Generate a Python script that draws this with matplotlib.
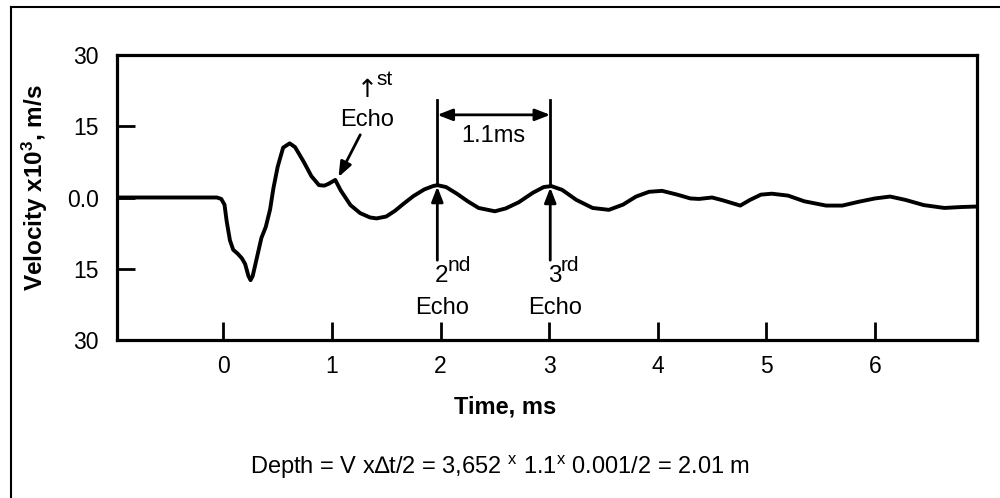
import matplotlib
matplotlib.use("Agg")
import matplotlib.pyplot as plt
from matplotlib.lines import Line2D

plt.rcParams['font.family'] = ['Liberation Sans', 'DejaVu Sans']
plt.rcParams['mathtext.fontset'] = 'custom'
plt.rcParams['mathtext.rm'] = 'Liberation Sans'
plt.rcParams['mathtext.it'] = 'Liberation Sans'
plt.rcParams['mathtext.bf'] = 'Liberation Sans:bold'

# ---- data ----
time_ms = [-0.98, -0.3, -0.06, -0.02, 0.01, 0.03, 0.06, 0.09, 0.13, 0.17, 0.20,
           0.23, 0.25, 0.27, 0.31, 0.35, 0.39, 0.43, 0.46, 0.50, 0.55, 0.61,
           0.66, 0.74, 0.81, 0.88, 0.93, 0.97, 1.03, 1.08, 1.17, 1.26, 1.35,
           1.41, 1.50, 1.58, 1.66, 1.75, 1.85, 1.93, 1.97, 2.05, 2.15, 2.25,
           2.35, 2.50, 2.60, 2.72, 2.85, 2.95, 3.02, 3.12, 3.25, 3.40, 3.55,
           3.68, 3.80, 3.92, 4.04, 4.18, 4.30, 4.38, 4.50, 4.60, 4.76, 4.85,
           4.95, 5.05, 5.20, 5.35, 5.55, 5.70, 5.85, 6.00, 6.14, 6.28, 6.45,
           6.64, 6.80, 6.94]
velocity = [0.0, 0.0, 0.0, -0.3, -1.5, -5.0, -9.0, -11.0, -11.8, -12.8, -14.0,
            -16.5, -17.4, -16.5, -12.5, -8.5, -6.2, -2.5, 1.9, 6.5, 10.5, 11.4,
            10.6, 7.5, 4.5, 2.6, 2.5, 2.9, 3.7, 1.5, -1.6, -3.3, -4.2,
            -4.4, -4.0, -2.8, -1.3, 0.3, 1.7, 2.4, 2.6, 2.2, 0.8, -0.8,
            -2.2, -2.9, -2.3, -1.0, 1.0, 2.2, 2.4, 1.6, -0.5, -2.2, -2.6,
            -1.5, 0.2, 1.2, 1.4, 0.6, -0.2, -0.3, 0.0, -0.6, -1.7, -0.5,
            0.6, 0.8, 0.4, -0.8, -1.7, -1.7, -0.9, -0.2, 0.2, -0.5, -1.6,
            -2.2, -2.0, -1.9]

x_ticks = [0, 1, 2, 3, 4, 5, 6]
y_ticks = [30, 15, 0, -15, -30]
y_tick_labels = ["30", "15", "0.0", "15", "30"]
echo_times = [1.97, 3.01]
echo_peaks = [2.6, 2.4]
echo_numbers = ["2", "3"]
echo_suffixes = ["nd", "rd"]

fig = plt.figure(figsize=(10, 4.98), dpi=100)
ax = fig.add_axes([0.117, 1 - 340 / 498, 0.86, 285 / 498])

ax.plot(time_ms, velocity, color='black', lw=2.8, solid_joinstyle='round')

ax.set_xlim(-0.98, 6.94)
ax.set_ylim(-30, 30)
ax.set_xticks(x_ticks)
ax.set_xticklabels([str(v) for v in x_ticks])
ax.set_yticks(y_ticks)
ax.set_yticklabels(y_tick_labels)
ax.tick_params(axis='both', direction='in', length=13, width=2.0,
               labelsize=16.5, colors='black')
ax.tick_params(axis='x', pad=11)
ax.tick_params(axis='y', pad=13)
for s in ax.spines.values():
    s.set_linewidth(2.3)

# echo markers
for t, pk, num, suf in zip(echo_times, echo_peaks, echo_numbers, echo_suffixes):
    ax.plot([t, t], [20.5, pk], color='black', lw=2.0)
    ax.annotate('', xy=(t, pk - 0.3), xytext=(t, -13.2),
                arrowprops=dict(arrowstyle='-|>,head_length=0.9,head_width=0.35',
                                color='black', lw=2.0, shrinkA=0, shrinkB=0))
    ax.text(t + 0.04, -16.5, num, ha='center', va='center', fontsize=17.5)
    ax.text(t + 0.095, -14.4, suf, ha='left', va='center', fontsize=15)
    ax.text(t + 0.04, -23.2, "Echo", ha='center', va='center', fontsize=17)

ax.annotate('', xy=(echo_times[0], 17.4), xytext=(echo_times[1], 17.4),
            arrowprops=dict(arrowstyle='<|-|>,head_length=0.9,head_width=0.35',
                            color='black', lw=2.0, shrinkA=0, shrinkB=0))
ax.text((echo_times[0] + echo_times[1]) / 2, 13.0, "1.1ms", ha='center',
        va='center', fontsize=17)

# first echo
ax.text(1.32, 16.3, "Echo", ha='center', va='center', fontsize=17)
ax.text(1.325, 22.6, "\u2191", ha='center', va='center', fontsize=18,
        family='DejaVu Sans')
ax.text(1.405, 24.8, "st", ha='left', va='center', fontsize=15)
ax.annotate('', xy=(1.06, 4.3), xytext=(1.26, 13.2),
            arrowprops=dict(arrowstyle='-|>,head_length=0.9,head_width=0.35',
                            color='black', lw=2.0, shrinkA=0, shrinkB=0))

# labels
fig.text(0.035, 1 - 188 / 498, "Velocity x10$^{\\mathbf{3}}$, m/s", rotation=90,
         ha='center', va='center', fontsize=17.5, fontweight='bold')
fig.text(0.505, 1 - 407 / 498, "Time, ms", ha='center', va='center',
         fontsize=17, fontweight='bold')
fig.text(0.500, 1 - 467 / 498,
         "Depth = V x\u2206t/2 = 3,652 $^{\\mathrm{x}}$ 1.1$^{\\mathrm{x}}$ 0.001/2 = 2.01 m",
         ha='center', va='center', fontsize=17)

# outer frame (left and top edges visible)
fig.add_artist(Line2D([0.011, 0.011], [0.0, 1 - 7 / 498], transform=fig.transFigure,
                      color='black', lw=1.5))
fig.add_artist(Line2D([0.011, 1.0], [1 - 7 / 498, 1 - 7 / 498], transform=fig.transFigure,
                      color='black', lw=1.5))

fig.savefig("out.png", dpi=100)
